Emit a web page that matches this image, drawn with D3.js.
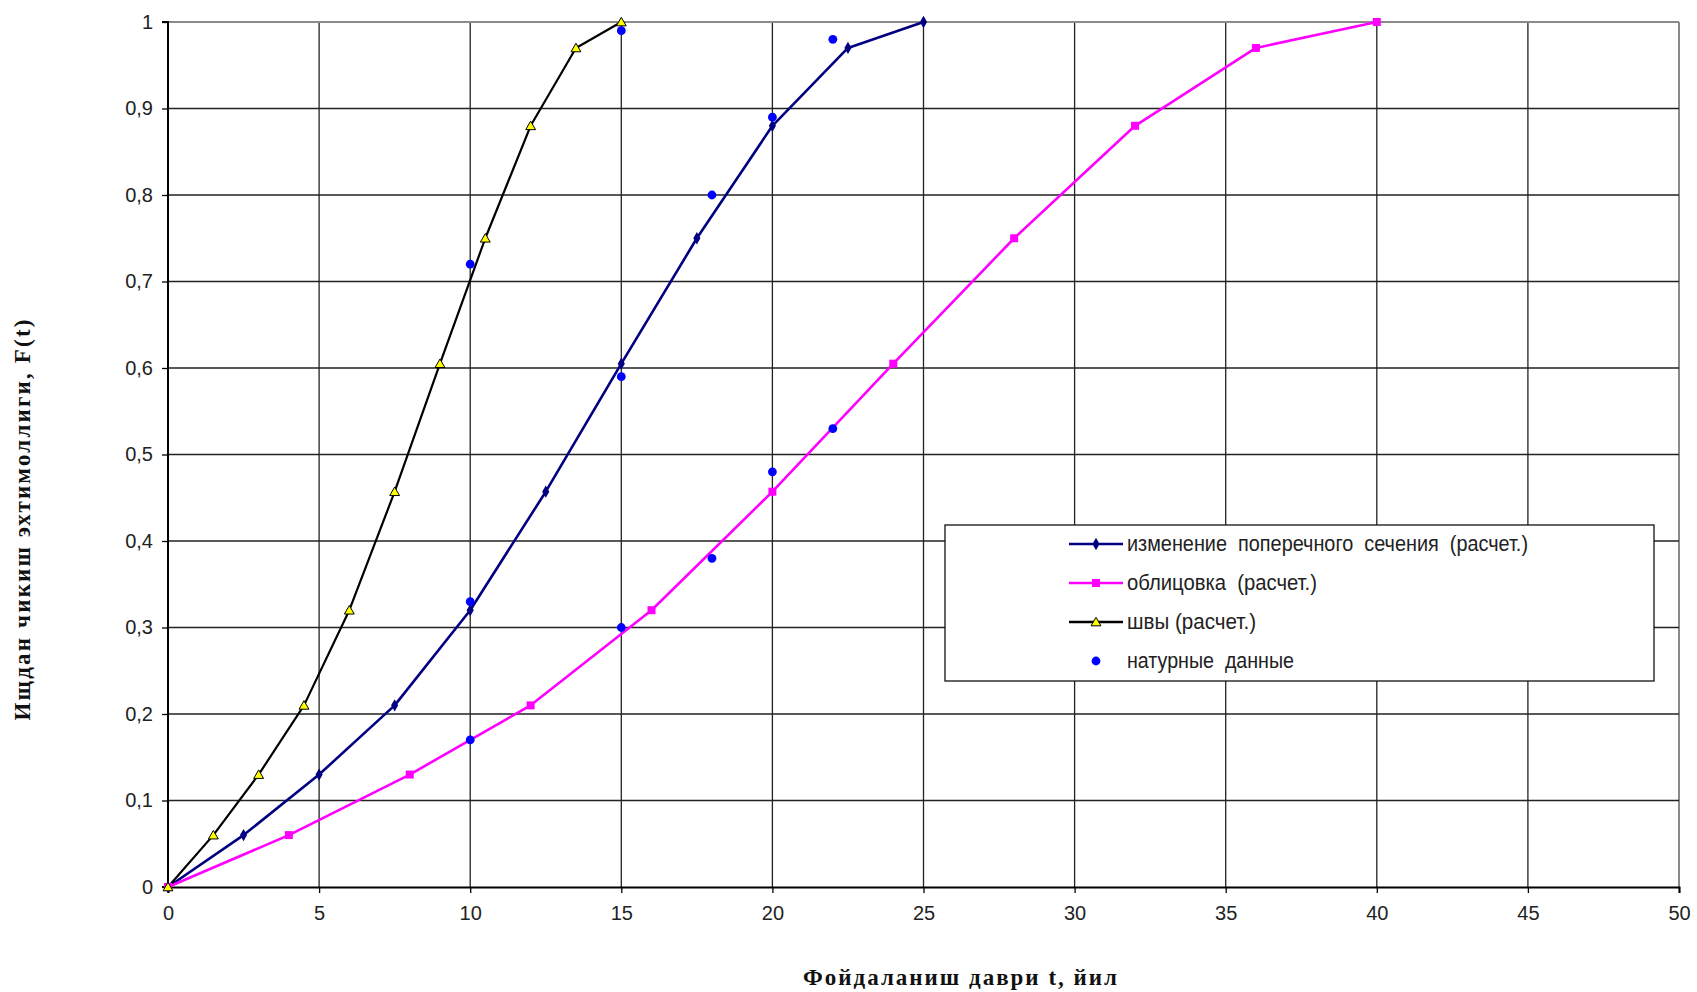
<!DOCTYPE html>
<html>
<head>
<meta charset="utf-8">
<script src="https://cdn.jsdelivr.net/npm/d3@7"></script>
<style>
  html, body { margin: 0; padding: 0; background: #fff; }
  svg { display: block; }
</style>
</head>
<body>
<svg id="chart" width="1697" height="992"></svg>
<script>
// ---------- data ----------
const xTicks = [0, 5, 10, 15, 20, 25, 30, 35, 40, 45, 50];
const yTicks = [0, 0.1, 0.2, 0.3, 0.4, 0.5, 0.6, 0.7, 0.8, 0.9, 1];

const sectionT = [0, 2.5, 5, 7.5, 10, 12.5, 15, 17.5, 20, 22.5, 25];
const sectionF = [0, 0.06, 0.13, 0.21, 0.32, 0.457, 0.605, 0.75, 0.88, 0.97, 1];

const liningT = [0, 4, 8, 12, 16, 20, 24, 28, 32, 36, 40];
const liningF = [0, 0.06, 0.13, 0.21, 0.32, 0.457, 0.605, 0.75, 0.88, 0.97, 1];

const jointsT = [0, 1.5, 3, 4.5, 6, 7.5, 9, 10.5, 12, 13.5, 15];
const jointsF = [0, 0.06, 0.13, 0.21, 0.32, 0.457, 0.605, 0.75, 0.88, 0.97, 1];

const fieldT = [10, 15, 22, 20, 18, 15, 10, 20, 22, 18, 15, 10];
const fieldF = [0.72, 0.99, 0.98, 0.89, 0.80, 0.59, 0.33, 0.48, 0.53, 0.38, 0.30, 0.17];

const legendLabels = [
  "изменение  поперечного  сечения  (расчет.)",
  "облицовка  (расчет.)",
  "швы (расчет.)",
  "натурные  данные"
];
const xTitle = "Фойдаланиш даври t, йил";
const yTitle = "Ищдан чикиш эхтимоллиги, F(t)";

// ---------- layout ----------
const svg = d3.select("#chart");
const L = 168, R = 1679, T = 22, B = 887;
const x = d3.scaleLinear().domain([0, 50]).range([L, R]);
const y = d3.scaleLinear().domain([0, 1]).range([B, T]);
const fmt = v => d3.format("~g")(v).replace(".", ",");

// grid
const g = svg.append("g");
g.selectAll(".vg").data(xTicks.filter(v => v > 0)).enter().append("line")
  .attr("x1", d => x(d)).attr("x2", d => x(d)).attr("y1", T).attr("y2", B)
  .attr("stroke", d => d === 50 ? "#8a8a8a" : "#222").attr("stroke-width", d => d === 50 ? 2 : 1.3);
g.selectAll(".hg").data(yTicks.filter(v => v > 0)).enter().append("line")
  .attr("x1", L).attr("x2", R).attr("y1", d => y(d)).attr("y2", d => y(d))
  .attr("stroke", d => d === 1 ? "#8a8a8a" : "#222").attr("stroke-width", d => d === 1 ? 2 : 1.3);

// axes
const axL = svg.append("g").attr("transform", `translate(${L},0)`)
  .call(d3.axisLeft(y).tickValues(yTicks).tickFormat(fmt).tickSize(6).tickPadding(9));
const axB = svg.append("g").attr("transform", `translate(0,${B})`)
  .call(d3.axisBottom(x).tickValues(xTicks).tickFormat(fmt).tickSize(6).tickPadding(13));
[axL, axB].forEach(a => {
  a.select(".domain").attr("stroke", "#000").attr("stroke-width", 2);
  a.selectAll(".tick line").attr("stroke", "#000").attr("stroke-width", 1.3);
  a.selectAll(".tick text").attr("font-family", "Liberation Sans, Arial, sans-serif")
    .attr("font-size", 20).attr("fill", "#222");
});
axL.select(".domain").attr("d", `M-6,${B}H0V${T}H-6`);

// series
const curve = d3.curveLinear;
function series(ts, fs, color, w) {
  const pts = ts.map((t, i) => [t, fs[i]]);
  svg.append("path").datum(pts)
    .attr("fill", "none").attr("stroke", color).attr("stroke-width", w)
    .attr("stroke-linejoin", "round")
    .attr("d", d3.line().x(d => x(d[0])).y(d => y(d[1])).curve(curve));
  return pts;
}
const secPts = series(sectionT, sectionF, "#000080", 2.6);
const linPts = series(liningT, liningF, "#ff00ff", 2.6);
const jntPts = series(jointsT, jointsF, "#000000", 2.2);

svg.append("g").selectAll("path").data(secPts).enter().append("path")
  .attr("transform", d => `translate(${x(d[0])},${y(d[1])})`)
  .attr("d", d3.symbol(d3.symbolDiamond, 44)).attr("fill", "#000080");
svg.append("g").selectAll("path").data(linPts).enter().append("path")
  .attr("transform", d => `translate(${x(d[0])},${y(d[1])})`)
  .attr("d", d3.symbol(d3.symbolSquare, 64)).attr("fill", "#ff00ff");
svg.append("g").selectAll("path").data(jntPts).enter().append("path")
  .attr("transform", d => `translate(${x(d[0])},${y(d[1]) + 1})`)
  .attr("d", d3.symbol(d3.symbolTriangle, 42)).attr("fill", "#ffff00")
  .attr("stroke", "#000").attr("stroke-width", 1);
svg.append("g").selectAll("circle").data(fieldT.map((t, i) => [t, fieldF[i]])).enter().append("circle")
  .attr("cx", d => x(d[0])).attr("cy", d => y(d[1])).attr("r", 4.4).attr("fill", "#0000ff");

// legend
const lg = svg.append("g");
lg.append("rect").attr("x", 945).attr("y", 525).attr("width", 709).attr("height", 156)
  .attr("fill", "#fff").attr("stroke", "#111").attr("stroke-width", 1.3);
const legY = [544, 583, 622, 661];
const legW = [401, 190, 129, 167];
const legColors = ["#000080", "#ff00ff", "#000000", null];
legY.forEach((yy, i) => {
  if (legColors[i]) {
    lg.append("line").attr("x1", 1069).attr("x2", 1123).attr("y1", yy).attr("y2", yy)
      .attr("stroke", legColors[i]).attr("stroke-width", 2.6);
  }
  const t = `translate(1096,${yy})`;
  if (i === 0) lg.append("path").attr("transform", t).attr("d", d3.symbol(d3.symbolDiamond, 44)).attr("fill", "#000080");
  if (i === 1) lg.append("path").attr("transform", t).attr("d", d3.symbol(d3.symbolSquare, 64)).attr("fill", "#ff00ff");
  if (i === 2) lg.append("path").attr("transform", `translate(1096,${yy + 1})`).attr("d", d3.symbol(d3.symbolTriangle, 42))
    .attr("fill", "#ffff00").attr("stroke", "#000").attr("stroke-width", 1);
  if (i === 3) lg.append("circle").attr("cx", 1096).attr("cy", yy).attr("r", 4.4).attr("fill", "#0000ff");
  lg.append("text").attr("x", 1127).attr("y", yy + 7)
    .attr("font-family", "Liberation Sans, Arial, sans-serif").attr("font-size", 22)
    .attr("fill", "#222").attr("textLength", legW[i]).attr("lengthAdjust", "spacingAndGlyphs")
    .style("white-space", "pre").text(legendLabels[i]);
});

// titles
svg.append("text").attr("x", 960).attr("y", 985).attr("text-anchor", "middle")
  .attr("font-family", "Liberation Serif, Times New Roman, serif").attr("font-weight", "bold")
  .attr("font-size", 23).attr("fill", "#111").attr("textLength", 314).attr("lengthAdjust", "spacing")
  .text(xTitle);
svg.append("text").attr("transform", "translate(30,520) rotate(-90)").attr("text-anchor", "middle")
  .attr("font-family", "Liberation Serif, Times New Roman, serif").attr("font-weight", "bold")
  .attr("font-size", 23).attr("fill", "#111").attr("textLength", 401).attr("lengthAdjust", "spacing")
  .text(yTitle);
</script>
</body>
</html>
